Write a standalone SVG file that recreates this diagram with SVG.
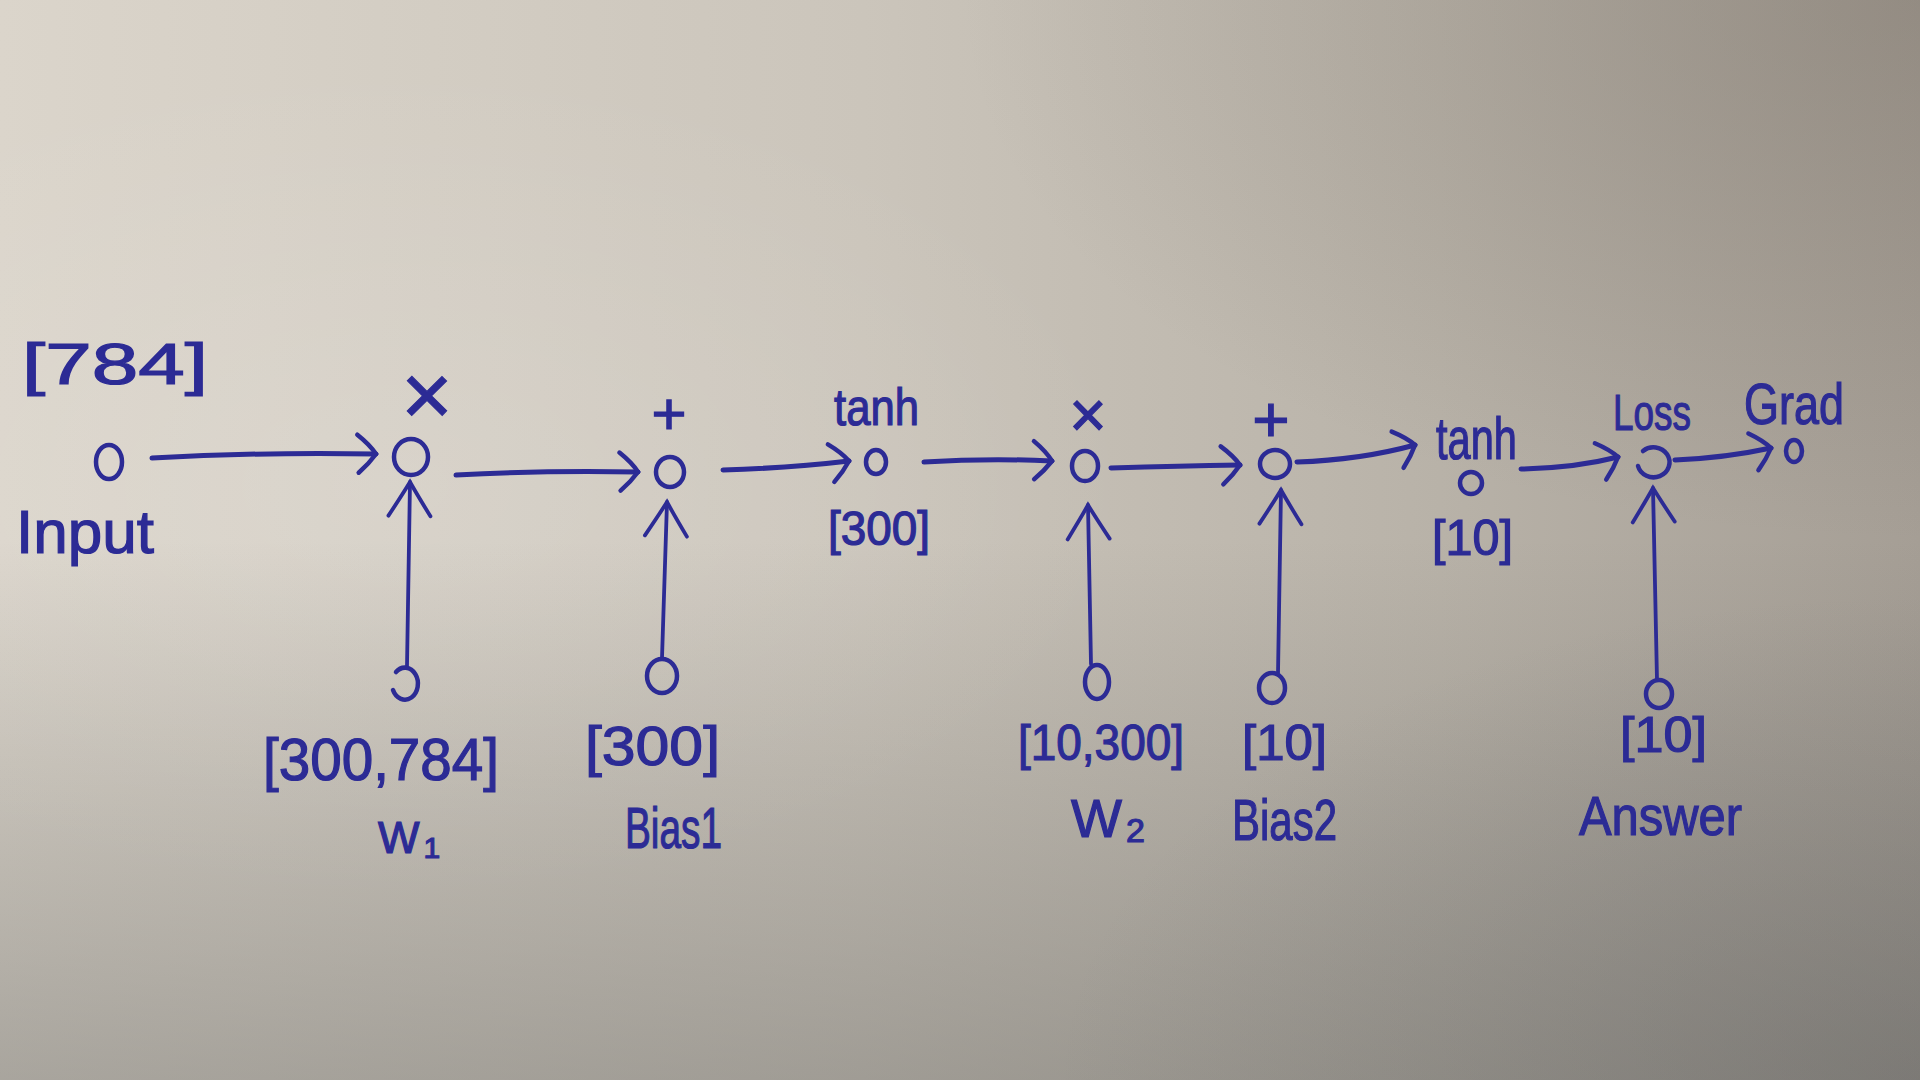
<svg xmlns="http://www.w3.org/2000/svg" width="1920" height="1080" viewBox="0 0 1920 1080">
<style>
.node{fill:none;stroke:#2c2b95;stroke-width:4.5;stroke-linecap:round}
.edge{fill:none;stroke:#2c2b95;stroke-width:5;stroke-linecap:round}
.vedge{fill:none;stroke:#2c2b95;stroke-width:3.8;stroke-linecap:round}
.lbl{font-family:"Liberation Sans",Arial,sans-serif;fill:#2c2b95;stroke:#2c2b95;stroke-width:1.2}
</style>
<defs>
<linearGradient id="paperH" x1="0" y1="0" x2="1" y2="0">
<stop offset="0" stop-color="#dbd5cb"/>
<stop offset="0.45" stop-color="#cbc5bb"/>
<stop offset="0.75" stop-color="#b8b2a8"/>
<stop offset="1" stop-color="#a59e95"/>
</linearGradient>
<linearGradient id="shadeV" x1="0" y1="0" x2="0" y2="1">
<stop offset="0.5" stop-color="#6b6a66" stop-opacity="0"/>
<stop offset="1" stop-color="#6b6a66" stop-opacity="0.45"/>
</linearGradient>
<radialGradient id="tr" cx="1" cy="0" r="0.5">
<stop offset="0" stop-color="#6e655b" stop-opacity="0.32"/>
<stop offset="1" stop-color="#6e655b" stop-opacity="0"/>
</radialGradient>
<radialGradient id="br" cx="1" cy="1" r="0.45">
<stop offset="0" stop-color="#5a5c5e" stop-opacity="0.3"/>
<stop offset="1" stop-color="#5a5c5e" stop-opacity="0"/>
</radialGradient>
<radialGradient id="lite" cx="0.2" cy="0.45" r="0.4">
<stop offset="0" stop-color="#ffffff" stop-opacity="0.12"/>
<stop offset="1" stop-color="#ffffff" stop-opacity="0"/>
</radialGradient>
<marker id="headH" markerUnits="userSpaceOnUse" viewBox="-24 -24 48 48" markerWidth="48" markerHeight="48" refX="0" refY="0" orient="auto">
<path d="M-19,-19 Q-6,-9 0,0 Q-7,10 -17,19" fill="none" stroke="#2c2b95" stroke-width="4.5" stroke-linecap="round"/>
</marker>
<marker id="headV" markerUnits="userSpaceOnUse" viewBox="-40 -28 56 56" markerWidth="56" markerHeight="56" refX="0" refY="0" orient="auto">
<path d="M-34,-21 Q-12,-7 0,0 Q-12,7 -34,21" fill="none" stroke="#2c2b95" stroke-width="3.8" stroke-linecap="round"/>
</marker>
</defs>

<rect x="0" y="0" width="1920" height="1080" fill="url(#paperH)"/>
<rect x="0" y="0" width="1920" height="1080" fill="url(#lite)"/>
<rect x="0" y="0" width="1920" height="1080" fill="url(#tr)"/>
<rect x="0" y="0" width="1920" height="1080" fill="url(#shadeV)"/>
<rect x="0" y="0" width="1920" height="1080" fill="url(#br)"/>

<g id="connectors">
<path class="edge" d="M152,458 Q260,452 376,454" marker-end="url(#headH)"/>
<path class="edge" d="M456,475 Q550,470 638,472" marker-end="url(#headH)"/>
<path class="edge" d="M723,470 Q790,468 849,461" marker-end="url(#headH)"/>
<path class="edge" d="M924,462 Q990,458 1052,461" marker-end="url(#headH)"/>
<path class="edge" d="M1111,468 Q1180,466 1240,465" marker-end="url(#headH)"/>
<path class="edge" d="M1297,462 Q1360,460 1415,445" marker-end="url(#headH)"/>
<path class="edge" d="M1521,469 Q1575,468 1618,457" marker-end="url(#headH)"/>
<path class="edge" d="M1675,460 Q1725,458 1771,448" marker-end="url(#headH)"/>
<path class="vedge" d="M407,666 L410,482" marker-end="url(#headV)"/>
<path class="vedge" d="M662,658 L667,502" marker-end="url(#headV)"/>
<path class="vedge" d="M1091,664 L1088,505" marker-end="url(#headV)"/>
<path class="vedge" d="M1278,673 L1281,490" marker-end="url(#headV)"/>
<path class="vedge" d="M1657,680 L1653,488" marker-end="url(#headV)"/>
</g>

<g id="input">
<ellipse class="node" cx="109" cy="462" rx="13" ry="17"/>
<text class="lbl" x="22" y="384" font-size="58" textLength="186" lengthAdjust="spacingAndGlyphs">[784]</text>
<text class="lbl" x="16" y="553" font-size="62" textLength="138" lengthAdjust="spacingAndGlyphs">Input</text>
</g>

<g id="mul1">
<ellipse class="node" cx="411" cy="457" rx="17" ry="18"/>
<text class="lbl" x="427" y="425" font-size="88" text-anchor="middle">×</text>
</g>

<g id="w1">
<path class="node" d="M396,672 A13,16 0 1 1 393,690"/>
<text class="lbl" x="378" y="853" font-size="44">W<tspan font-size="30" dx="4" dy="5">1</tspan></text>
<text class="lbl" x="263" y="780" font-size="60" textLength="236" lengthAdjust="spacingAndGlyphs">[300,784]</text>
</g>

<g id="add1">
<ellipse class="node" cx="670" cy="472" rx="14" ry="15"/>
<text class="lbl" x="669" y="434" font-size="60" text-anchor="middle">+</text>
</g>

<g id="bias1">
<ellipse class="node" cx="662" cy="676" rx="15" ry="17"/>
<text class="lbl" x="585" y="765" font-size="56" textLength="135" lengthAdjust="spacingAndGlyphs">[300]</text>
<text class="lbl" x="625" y="848" font-size="58" textLength="97" lengthAdjust="spacingAndGlyphs">Bias1</text>
</g>

<g id="tanh1">
<ellipse class="node" cx="876" cy="462" rx="10" ry="12"/>
<text class="lbl" x="834" y="425" font-size="52" textLength="85" lengthAdjust="spacingAndGlyphs">tanh</text>
<text class="lbl" x="828" y="545" font-size="48" textLength="102" lengthAdjust="spacingAndGlyphs">[300]</text>
</g>

<g id="mul2">
<ellipse class="node" cx="1085" cy="466" rx="13" ry="15"/>
<text class="lbl" x="1088" y="437" font-size="64" text-anchor="middle">×</text>
</g>

<g id="w2">
<ellipse class="node" cx="1097" cy="682" rx="12" ry="17"/>
<text class="lbl" x="1018" y="760" font-size="50" textLength="166" lengthAdjust="spacingAndGlyphs">[10,300]</text>
<text class="lbl" x="1071" y="837" font-size="54">W<tspan font-size="34" dx="4" dy="5">2</tspan></text>
</g>

<g id="add2">
<ellipse class="node" cx="1275" cy="464" rx="15" ry="14"/>
<text class="lbl" x="1271" y="442" font-size="64" text-anchor="middle">+</text>
</g>

<g id="bias2">
<ellipse class="node" cx="1272" cy="688" rx="13" ry="15"/>
<text class="lbl" x="1242" y="760" font-size="50" textLength="85" lengthAdjust="spacingAndGlyphs">[10]</text>
<text class="lbl" x="1232" y="840" font-size="58" textLength="105" lengthAdjust="spacingAndGlyphs">Bias2</text>
</g>

<g id="tanh2">
<ellipse class="node" cx="1471" cy="483" rx="11" ry="11"/>
<text class="lbl" x="1436" y="459" font-size="60" textLength="81" lengthAdjust="spacingAndGlyphs">tanh</text>
<text class="lbl" x="1432" y="555" font-size="50" textLength="81" lengthAdjust="spacingAndGlyphs">[10]</text>
</g>

<g id="loss">
<path class="node" d="M1643,451 A16,15 0 1 1 1638,466"/>
<text class="lbl" x="1613" y="430" font-size="50" textLength="78" lengthAdjust="spacingAndGlyphs">Loss</text>
</g>

<g id="answer">
<ellipse class="node" cx="1659" cy="694" rx="13" ry="14"/>
<text class="lbl" x="1620" y="752" font-size="50" textLength="87" lengthAdjust="spacingAndGlyphs">[10]</text>
<text class="lbl" x="1579" y="835" font-size="56" textLength="163" lengthAdjust="spacingAndGlyphs">Answer</text>
</g>

<g id="grad">
<ellipse class="node" cx="1794" cy="451" rx="8" ry="11"/>
<text class="lbl" x="1744" y="424" font-size="58" textLength="100" lengthAdjust="spacingAndGlyphs">Grad</text>
</g>
</svg>
